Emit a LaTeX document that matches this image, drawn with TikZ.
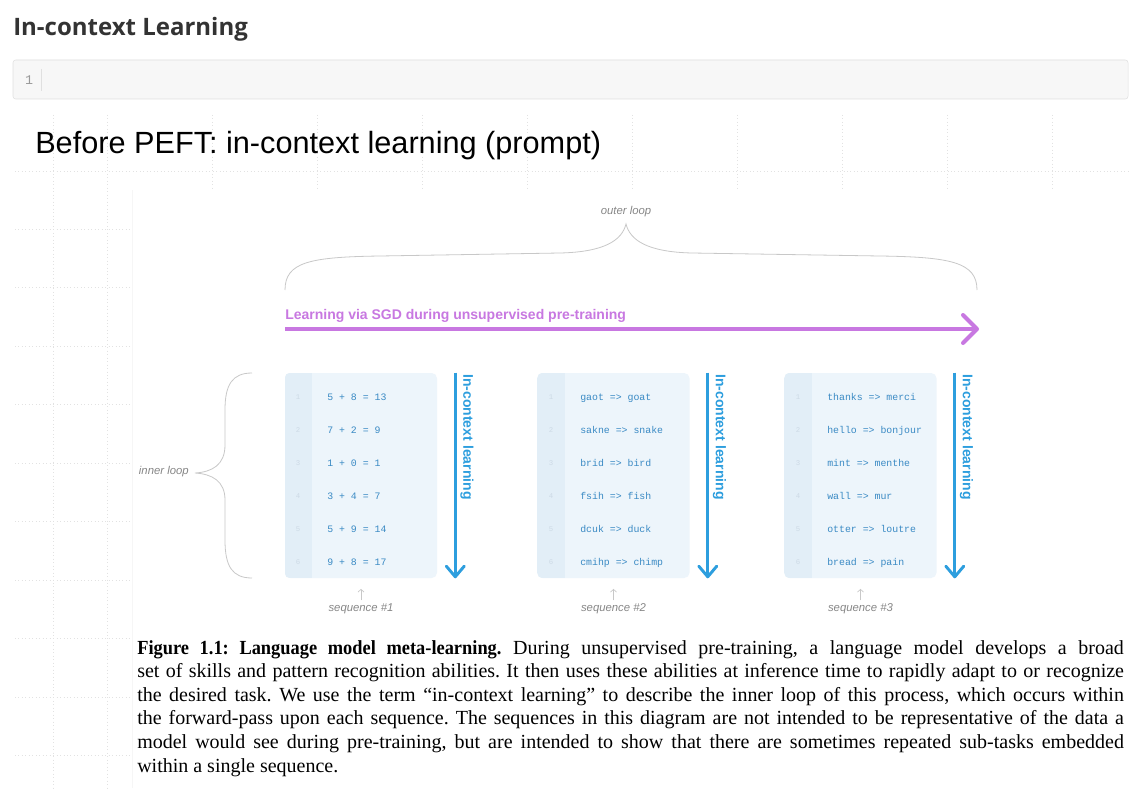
\documentclass[tikz,border=0pt]{standalone}
\usepackage{fontspec}
\setmainfont{Liberation Sans}
\newfontfamily\headfont{Open Sans}
\newfontfamily\codefont{Liberation Mono}
\newfontfamily\capfont{Liberation Serif}[BoldFeatures={FakeStretch=0.92}]
\usetikzlibrary{arrows.meta,positioning}

\definecolor{headgray}{RGB}{51,51,51}
\definecolor{cellfill}{RGB}{247,247,247}
\definecolor{cellline}{RGB}{224,224,224}
\definecolor{gridgray}{RGB}{226,226,226}
\definecolor{panelline}{RGB}{246,246,246}
\definecolor{sgdpurple}{RGB}{200,120,225}
\definecolor{iclblue}{RGB}{45,158,222}
\definecolor{codeblue}{RGB}{58,138,196}
\definecolor{boxfill}{RGB}{237,245,251}
\definecolor{gutterfill}{RGB}{226,238,247}
\definecolor{linenum}{RGB}{205,218,230}
\definecolor{notegray}{RGB}{135,135,135}
\definecolor{bracegray}{RGB}{200,200,200}

\tikzset{
  gridline/.style={draw=gridgray, dotted, line width=0.6pt},
  note/.style={font=\itshape\fontsize{8.5}{10}\selectfont, text=notegray},
  bracepath/.style={draw=bracegray, line width=0.6pt},
  seqbox/.style={fill=boxfill, rounded corners=4pt, minimum width=114pt, minimum height=153.75pt},
  codeline/.style={anchor=mid west, font=\codefont\fontsize{7.4}{9}\selectfont, text=codeblue},
  lineno/.style={font=\codefont\fontsize{5.5}{7}\selectfont, text=linenum},
  iclarrow/.style={draw=iclblue, line width=2.2pt,
    -{Straight Barb[length=8pt,width=13.5pt,line cap=round,line join=round]}},
  icllabel/.style={anchor=base west, rotate=-90, font=\bfseries\fontsize{10.5}{12}\selectfont, text=iclblue},
  sgdarrow/.style={draw=sgdpurple, line width=3pt,
    -{Straight Barb[length=10.5pt,width=21pt,line cap=round,line join=round]}},
  seqarrow/.style={draw=bracegray, line width=0.5pt, shorten <=2pt,
    -{Straight Barb[length=2pt,width=4.5pt]}},
}

\begin{document}
\begin{tikzpicture}[x=0.75pt, y=-0.75pt, every node/.style={inner sep=0pt}]
\useasboundingbox (0,0) rectangle (1130,788);
\fill[white] (0,0) rectangle (1130,788);

% Background grid of the slide
\foreach \gx in {53,107} \draw[gridline] (\gx,115) -- (\gx,788);
\foreach \gx in {212,317,...,1060} \draw[gridline] (\gx,115) -- (\gx,190);
\draw[gridline] (15,171) -- (1130,171);
\foreach \gy in {229,287.5,...,760} \draw[gridline] (15,\gy) -- (131,\gy);

% Notebook heading and empty cell
\node[anchor=base west, font=\headfont\bfseries\fontsize{18}{22}\selectfont, text=headgray] (heading) at (13,36) {In-context Learning};
\draw[draw=cellline, fill=cellfill, rounded corners=2pt] (13,60) rectangle (1128,99);
\node[font=\codefont\fontsize{10}{12}\selectfont, text=gray!80] (cellno) at (29,80) {1};
\draw[draw=cellline] (41,69) -- (41,91);

% Slide title
\node[anchor=base west, font=\fontsize{23}{27}\selectfont] (title) at (35,153) {Before PEFT: in-context learning (prompt)};

% Pasted figure
\fill[white] (132,190) rectangle (1130,788);
\draw[panelline] (132,788) -- (132,190);

% Outer loop
\node[note] (outer) at (626,212) {outer loop};
\draw[bracepath] (285,290) .. controls (285,262) and (310,257) .. (380,256)
  -- (560,253) .. controls (605,252) and (622,240) .. (626,224)
  .. controls (630,240) and (647,252) .. (692,253)
  -- (880,256) .. controls (950,257) and (977,262) .. (977,290);

% Pre-training arrow
\node[anchor=base west, font=\bfseries\fontsize{10.5}{12}\selectfont, text=sgdpurple] (sgd) at (285,319) {Learning via SGD during unsupervised pre-training};
\coordinate (sgd-start) at (285,329);
\coordinate (sgd-end) at (979,329);
\draw[sgdarrow] (sgd-start) -- (sgd-end);

% Sequences
\node[seqbox] (box1) at (361,475.5) {};
\node[seqbox] (box2) at (613.5,475.5) {};
\node[seqbox] (box3) at (860.5,475.5) {};
\foreach \b in {box1,box2,box3} {
  \begin{scope}
    \clip[rounded corners=4pt] (\b.north west) rectangle (\b.south east);
    \fill[gutterfill] (\b.north west) rectangle ([xshift=20.6pt]\b.south west);
  \end{scope}
  \draw[iclarrow] ([xshift=13.5pt]\b.north east) -- ([xshift=13.5pt]\b.south east);
  \node[icllabel] (icl-\b) at ([xshift=19.5pt,yshift=-1pt]\b.north east) {In-context learning};
}
\foreach \gx/\b in {298/1,551/2,798/3}
  \foreach \r in {1,...,6}
    \node[lineno] (n\b-\r) at (\gx,{364+33*\r}) {\r};

\foreach \t [count=\r] in {5 + 8 = 13, 7 + 2 = 9, 1 + 0 = 1, 3 + 4 = 7, 5 + 9 = 14, 9 + 8 = 17}
  \node[codeline] (s1-\r) at (327,{364+33*\r}) {\t};
\foreach \t [count=\r] in {gaot => goat, sakne => snake, brid => bird, fsih => fish, dcuk => duck, cmihp => chimp}
  \node[codeline] (s2-\r) at (580,{364+33*\r}) {\t};
\foreach \t [count=\r] in {thanks => merci, hello => bonjour, mint => menthe, wall => mur, otter => loutre, bread => pain}
  \node[codeline] (s3-\r) at (827,{364+33*\r}) {\t};

% Sequence labels
\node[note, below=18.5pt of box1] (seq1) {sequence \#1};
\node[note, below=18.5pt of box2] (seq2) {sequence \#2};
\node[note, below=18.5pt of box3] (seq3) {sequence \#3};
\foreach \s in {seq1,seq2,seq3} \draw[seqarrow] (\s.north) -- ++(0,-14);

% Inner loop
\node[note, anchor=east] (inner) at (189,472) {inner loop};
\draw[bracepath] (252,373) .. controls (232,373) and (225,385) .. (225,410)
  -- (225,445) .. controls (225,465) and (212,472) .. (195,473)
  .. controls (212,474) and (225,481) .. (225,500)
  -- (225,540) .. controls (225,566) and (232,578) .. (252,578);

% Caption
\node[anchor=north west, text width=740pt, align=justify, font=\capfont\fontsize{15}{17.7}\selectfont\frenchspacing] (caption) at (137,640)
  {\textbf{Figure 1.1: Language model meta-learning.} During unsupervised pre-training, a language model develops a broad\linebreak
  set of skills and pattern recognition abilities. It then uses these abilities at inference time to rapidly adapt to or recognize\linebreak
  the desired task. We use the term “in-context learning” to describe the inner loop of this process, which occurs within\linebreak
  the forward-pass upon each sequence. The sequences in this diagram are not intended to be representative of the data a\linebreak
  model would see during pre-training, but are intended to show that there are sometimes repeated sub-tasks embedded\linebreak
  within a single sequence.};
\end{tikzpicture}
\end{document}
